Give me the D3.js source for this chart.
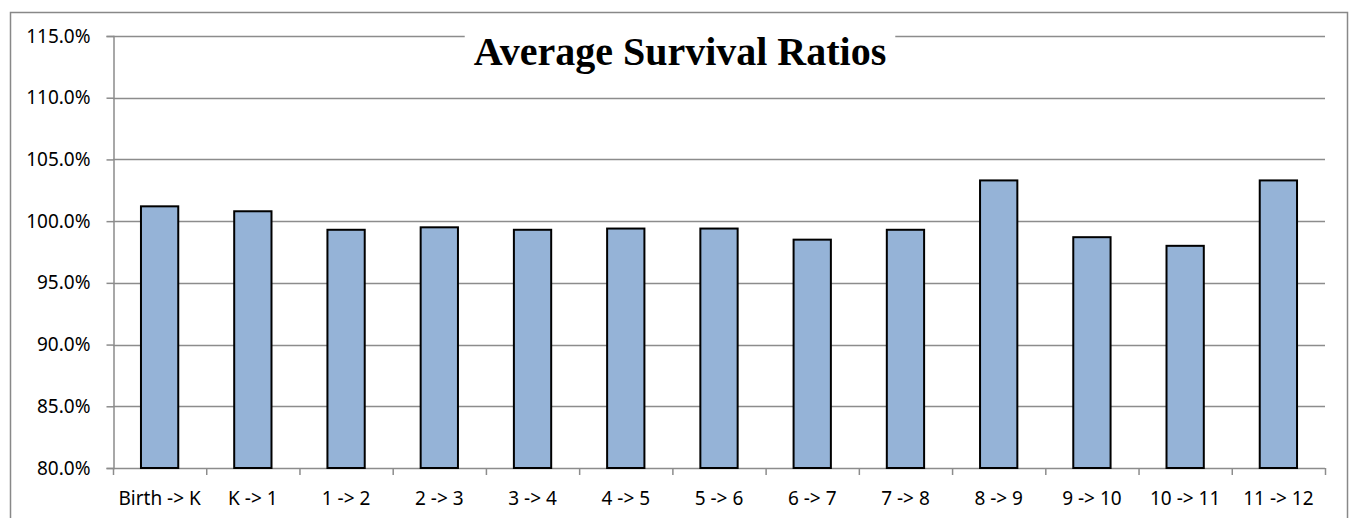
<!DOCTYPE html>
<html>
<head>
<meta charset="utf-8">
<script src="https://cdn.jsdelivr.net/npm/d3@7"></script>
<style>
  body { margin: 0; background: #fff; }
  svg { display: block; }
</style>
</head>
<body>
<svg id="chart"></svg>
<script>
const categories = ["Birth -> K", "K -> 1", "1 -> 2", "2 -> 3", "3 -> 4", "4 -> 5", "5 -> 6",
                    "6 -> 7", "7 -> 8", "8 -> 9", "9 -> 10", "10 -> 11", "11 -> 12"];
const ratios = [1.012, 1.008, 0.993, 0.995, 0.993, 0.994, 0.994, 0.985, 0.993, 1.033, 0.987, 0.980, 1.033];
const yTicks = [0.80, 0.85, 0.90, 0.95, 1.00, 1.05, 1.10, 1.15];
const titleText = "Average Survival Ratios";

const width = 1349, height = 518;
const margin = { left: 113, right: 24, top: 36, bottom: 50 };

const svg = d3.select("#chart")
    .attr("width", width)
    .attr("height", height);

// outer chart frame
svg.append("rect")
    .attr("x", 10.5).attr("y", 12.5)
    .attr("width", 1337).attr("height", 520)
    .attr("fill", "#fff")
    .attr("stroke", "#888").attr("stroke-width", 1.5);

const x = d3.scaleBand()
    .domain(categories)
    .range([margin.left, width - margin.right])
    .paddingInner(0.6)
    .paddingOuter(0.3);

const y = d3.scaleLinear()
    .domain([0.80, 1.15])
    .range([height - margin.bottom, margin.top]);

// gridlines
svg.append("g")
    .selectAll("line")
    .data(yTicks.filter(d => d > 0.80))
    .join("line")
    .attr("x1", margin.left).attr("x2", width - margin.right)
    .attr("y1", d => Math.round(y(d)) + 0.5).attr("y2", d => Math.round(y(d)) + 0.5)
    .attr("stroke", "#8c8c8c").attr("stroke-width", 1.5);

// y axis
const yAxis = svg.append("g")
    .attr("transform", `translate(${margin.left + 0.5},0)`)
    .call(d3.axisLeft(y).tickValues(yTicks).tickFormat(d3.format(".1%")).tickSizeOuter(0).tickSize(7).tickPadding(16));
yAxis.select(".domain").attr("stroke", "#8c8c8c").attr("stroke-width", 1.5);
yAxis.selectAll(".tick line").attr("stroke", "#8c8c8c").attr("stroke-width", 1.5);
yAxis.selectAll(".tick text")
    .attr("font-family", "'Noto Sans', sans-serif")
    .attr("font-size", 19)
    .attr("fill", "#000");

// x axis with ticks between categories
const boundaries = d3.range(categories.length + 1).map(i => margin.left + i * (width - margin.left - margin.right) / categories.length);
const xAxisG = svg.append("g");
xAxisG.append("line")
    .attr("x1", margin.left).attr("x2", width - margin.right)
    .attr("y1", y(0.80) + 0.5).attr("y2", y(0.80) + 0.5)
    .attr("stroke", "#8c8c8c").attr("stroke-width", 1.5);
xAxisG.selectAll("line.tk")
    .data(boundaries)
    .join("line")
    .attr("class", "tk")
    .attr("x1", d => d + 0.5).attr("x2", d => d + 0.5)
    .attr("y1", y(0.80)).attr("y2", y(0.80) + 7)
    .attr("stroke", "#8c8c8c").attr("stroke-width", 1.5);
xAxisG.selectAll("text")
    .data(categories)
    .join("text")
    .attr("x", d => x(d) + x.bandwidth() / 2)
    .attr("y", y(0.80) + 37)
    .attr("text-anchor", "middle")
    .attr("font-family", "'Noto Sans', sans-serif")
    .attr("font-size", 19)
    .attr("fill", "#000")
    .text(d => d);

// bars
svg.append("g")
    .selectAll("rect")
    .data(ratios)
    .join("rect")
    .attr("x", (d, i) => x(categories[i]))
    .attr("y", d => y(d))
    .attr("width", x.bandwidth())
    .attr("height", d => y(0.80) - y(d))
    .attr("fill", "#95b3d7")
    .attr("stroke", "#000")
    .attr("stroke-width", 2);

// title with white box behind it
const title = svg.append("g");
const titleBg = title.append("rect").attr("fill", "#fff");
const tt = title.append("text")
    .attr("x", 680)
    .attr("y", 65)
    .attr("text-anchor", "middle")
    .attr("font-family", "'Liberation Serif', 'Times New Roman', serif")
    .attr("font-weight", "bold")
    .attr("font-size", 40)
    .attr("fill", "#000")
    .text(titleText);
const bb = tt.node().getBBox();
titleBg.attr("x", bb.x - 9).attr("y", bb.y).attr("width", bb.width + 18).attr("height", bb.height);
</script>
</body>
</html>
